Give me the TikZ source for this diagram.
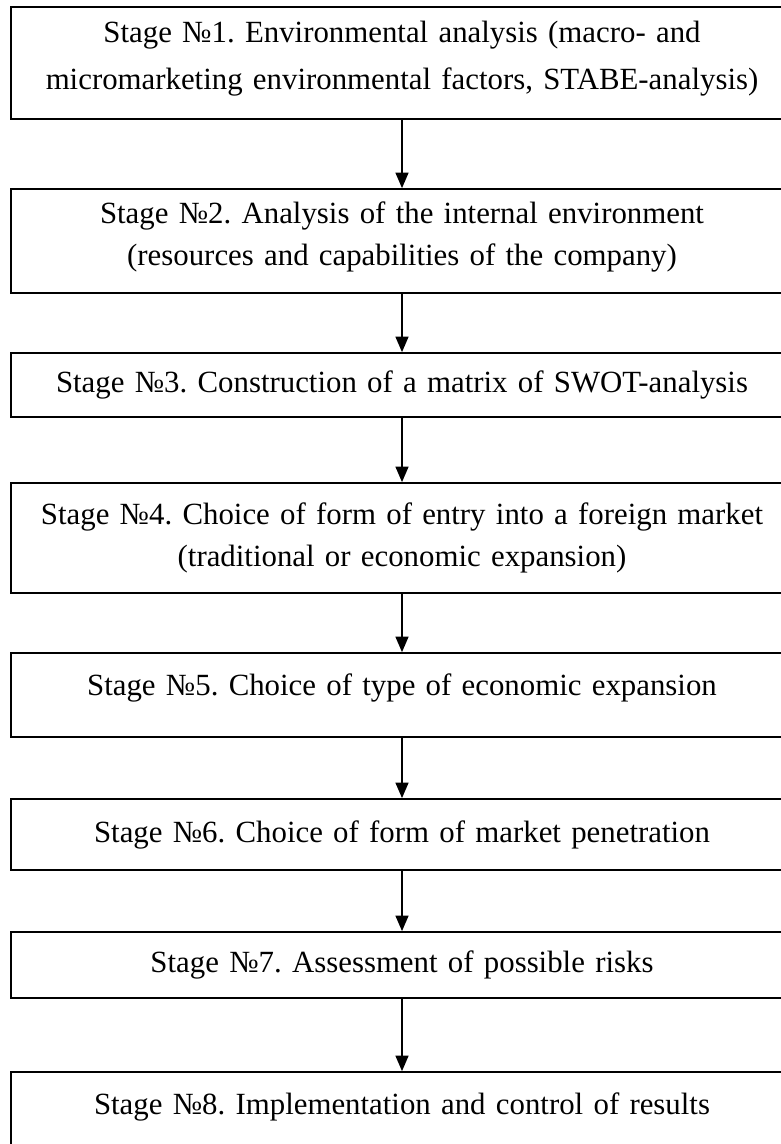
\documentclass[tikz,border=0pt]{standalone}
\usepackage{fontspec}
\setmainfont{Liberation Serif}
\usetikzlibrary{arrows.meta}
\frenchspacing

\begin{document}
\begin{tikzpicture}[x=0.48pt, y=-0.48pt,
	stagebox/.style={draw, line width=0.8pt, inner sep=0pt, minimum width=375.4pt, text width=370pt, align=center, font=\fontsize{14.8}{20.2}\selectfont},
	arr/.style={-{Triangle[length=7.5pt, width=6.2pt]}, line width=0.9pt}]
					\useasboundingbox (0,0) rectangle (780,1144);
					
					\node[stagebox, minimum height=53.8pt, text height=11pt, text depth=30.8pt] (s1) at (402,63) {Stage №1. Environmental analysis (macro- and\\[2.4pt] micromarketing environmental factors, STABE-analysis)};
					\node[stagebox, minimum height=49.9pt, text height=11pt, text depth=27.9pt] (s2) at (402,241) {Stage №2. Analysis of the internal environment\\ (resources and capabilities of the company)};
					\node[stagebox, minimum height=30.7pt] (s3) at (402,385) {Stage №3. Construction of a matrix of SWOT-analysis};
					\node[stagebox, minimum height=52.8pt] (s4) at (402,538) {Stage №4. Choice of form of entry into a foreign market\\ (traditional or economic expansion)};
					\node[stagebox, minimum height=40.3pt, text height=11pt, text depth=10.5pt] (s5) at (402,695) {Stage №5. Choice of type of economic expansion};
					\node[stagebox, minimum height=34.1pt] (s6) at (402,834.5) {Stage №6. Choice of form of market penetration};
					\node[stagebox, minimum height=31.7pt] (s7) at (402,965) {Stage №7. Assessment of possible risks};
					\node[stagebox, minimum height=40.3pt, text height=11pt, text depth=10.5pt] (s8) at (402,1114) {Stage №8. Implementation and control of results};
					
					\draw[arr] (s1) -- (s2);
					\draw[arr] (s2) -- (s3);
					\draw[arr] (s3) -- (s4);
					\draw[arr] (s4) -- (s5);
					\draw[arr] (s5) -- (s6);
					\draw[arr] (s6) -- (s7);
					\draw[arr] (s7) -- (s8);
					\end{tikzpicture}
\end{document}
